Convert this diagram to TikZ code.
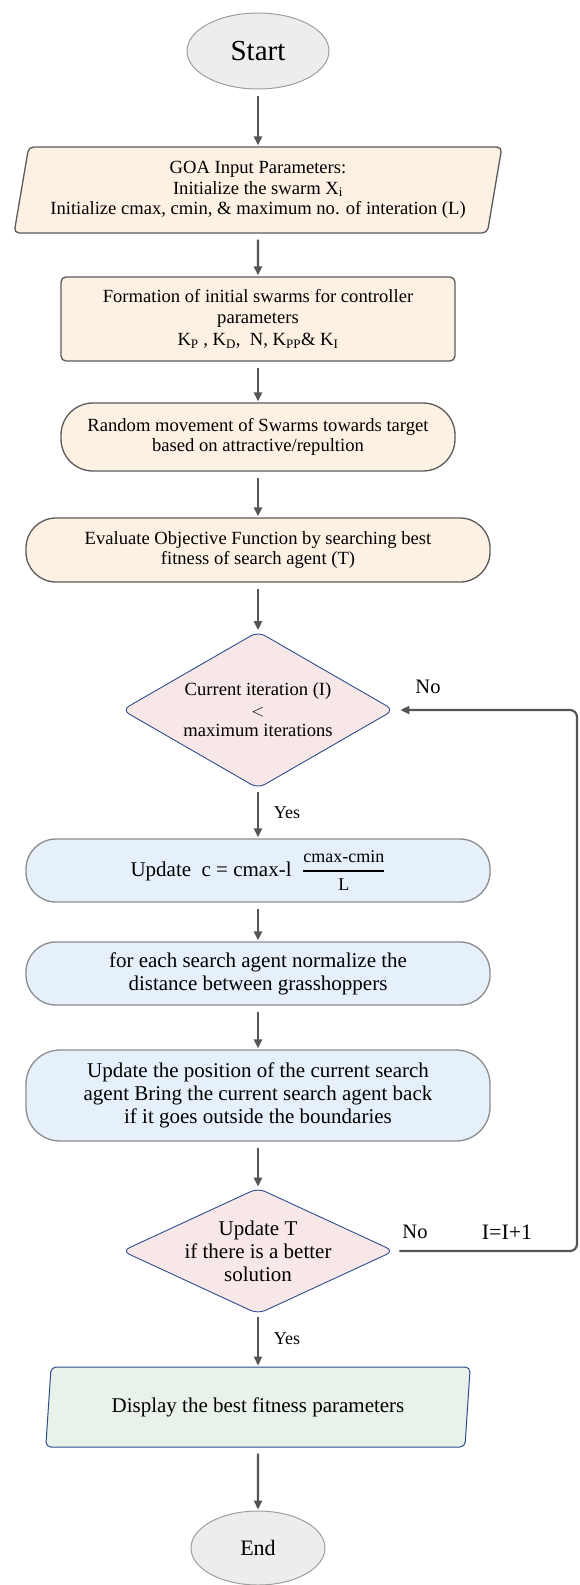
\documentclass[tikz,border=0pt]{standalone}
\usepackage{amsmath}
\usepackage{fontspec}
\setmainfont{Liberation Serif}
\usepackage{tikz}
\usetikzlibrary{arrows.meta,shapes.geometric}
\definecolor{arrowgray}{HTML}{555555}
\definecolor{termfill}{HTML}{EDEDED}
\definecolor{termline}{HTML}{9E9E9E}
\definecolor{peach}{HTML}{FDF1E4}
\definecolor{peachline}{HTML}{5A5A5A}
\definecolor{pinkfill}{HTML}{F8E7E7}
\definecolor{navyline}{HTML}{2E4C8C}
\definecolor{bluefill}{HTML}{E6F0FA}
\definecolor{blueline}{HTML}{8C8C8C}
\definecolor{greenfill}{HTML}{E8F2EB}
\newcommand{\fsA}{\fontsize{18.6}{20.5}\selectfont}
\newcommand{\fsB}{\fontsize{21}{23}\selectfont}
\newcommand{\fsC}{\fontsize{18}{20}\selectfont}

\begin{document}
\begin{tikzpicture}[x=1pt,y=-1pt,>={Triangle[length=9pt,width=8pt]},
  flow/.style={->,draw=arrowgray,line width=2.2pt,shorten <=6pt,shorten >=1pt},
  terminal/.style={ellipse,draw=termline,fill=termfill,line width=1pt,inner sep=0pt},
  iobox/.style={trapezium,trapezium stretches=true,rounded corners=5pt,align=center,inner sep=0pt},
  stepbox/.style={rectangle,rounded corners=5pt,align=center,inner sep=0pt,
    draw=peachline,fill=peach,line width=1.3pt,minimum width=394,font=\fsA},
  pill/.style={rectangle,rounded corners=30pt,align=center,inner sep=0pt,line width=1.3pt},
  decision/.style={diamond,draw=navyline,fill=pinkfill,line width=0.9pt,rounded corners=8pt,
    align=center,inner sep=0pt,minimum width=272},
  lbl/.style={inner sep=0pt}]
  \useasboundingbox (0,0) rectangle (579,1585);

  % Start and input parameters.
  \node[terminal,minimum width=142,minimum height=76,font=\fontsize{29}{32}\selectfont] (start) at (258,51) {Start};
  \node[iobox,trapezium left angle=77,trapezium right angle=103,draw=peachline,fill=peach,line width=1.3pt,
    minimum width=489,minimum height=86,font=\fsA] (goa) at (258,190)
    {GOA Input Parameters:\\ Initialize the swarm X\textsubscript{i}\\
     Initialize cmax, cmin, \& maximum no. of interation (L)};

  % Initial swarms and their movement.
  \node[stepbox,minimum height=84,rounded corners=5pt] (form) at (258,319)
    {Formation of initial swarms for controller\\ parameters\\[2pt]
     K\textsubscript{P} , K\textsubscript{D},\ \ N, K\textsubscript{PP}\& K\textsubscript{I}};
  \node[pill,draw=peachline,fill=peach,minimum width=394,minimum height=68,rounded corners=32pt,font=\fsA] (rand) at (258,437)
    {Random movement of Swarms towards target\\ based on attractive/repultion};
  \node[pill,draw=peachline,fill=peach,minimum width=464,minimum height=64,font=\fsA] (eval) at (258,550)
    {Evaluate Objective Function by searching best\\ fitness of search agent (T)};

  % Iteration test.
  \node[decision,aspect=1.73,minimum height=157,font=\fsA] (dec1) at (258,710)
    {Current iteration (I)\\ $<$\\ maximum iterations};

  % Update steps.
  \node[pill,draw=blueline,fill=bluefill,minimum width=464,minimum height=63,font=\fsB] (upc) at (258,870.5)
    {Update\ \ c = cmax-l\ \ $\genfrac{}{}{1.5pt}{0}{\text{\fsC cmax-cmin}}{\text{\fsC L}}$};
  \node[pill,draw=blueline,fill=bluefill,minimum width=464,minimum height=63,font=\fsB] (norm) at (258,973.5)
    {for each search agent normalize the\\ distance between grasshoppers};
  \node[pill,draw=blueline,fill=bluefill,minimum width=464,minimum height=91,rounded corners=34pt,font=\fsB] (upos) at (258,1095.5)
    {Update the position of the current search\\ agent Bring the current search agent back\\
     if it goes outside the boundaries};

  % Best solution test.
  \node[decision,aspect=2.16,inner sep=-4pt,minimum height=126,font=\fsB] (dec2) at (258,1251)
    {Update T\\ if there is a better\\ solution};

  % Output and end.
  \node[iobox,trapezium left angle=79,trapezium right angle=101,draw=navyline,fill=greenfill,line width=1pt,
    minimum width=425,minimum height=80,font=\fsB] (disp) at (258,1407)
    {Display the best fitness parameters};
  \node[terminal,minimum width=134,minimum height=74,font=\fontsize{22}{24}\selectfont] (end) at (258,1548) {End};

  % Main flow.
  \draw[flow] (start) -- (goa);
  \draw[flow] (goa) -- (form);
  \draw[flow] (form) -- (rand);
  \draw[flow] (rand) -- (eval);
  \draw[flow] (eval) -- (dec1);
  \draw[flow,shorten <=3pt] (dec1) -- (upc);
  \draw[flow] (upc) -- (norm);
  \draw[flow] (norm) -- (upos);
  \draw[flow] (upos) -- (dec2);
  \draw[flow,shorten <=3pt] (dec2) -- (disp);
  \draw[flow] (disp) -- (end);

  % Loop back when no better solution.
  \coordinate (loopR) at (577,0);
  \draw[flow,rounded corners=7pt,shorten <=5pt,shorten >=6pt]
    (dec2.east) -- (dec2.east -| loopR) -- (dec1.east -| loopR) -- (dec1.east);

  % Branch labels.
  \node[lbl,font=\fontsize{20.5}{22}\selectfont] (no1) at (428,687) {No};
  \node[lbl,font=\fontsize{18}{20}\selectfont] (yes1) at (287,813) {Yes};
  \node[lbl,font=\fontsize{20.5}{22}\selectfont] (no2) at (415,1232) {No};
  \node[lbl,font=\fontsize{22}{24}\selectfont] (incr) at (507,1232) {I=I+1};
  \node[lbl,font=\fontsize{18}{20}\selectfont] (yes2) at (287,1339) {Yes};
\end{tikzpicture}
\end{document}
